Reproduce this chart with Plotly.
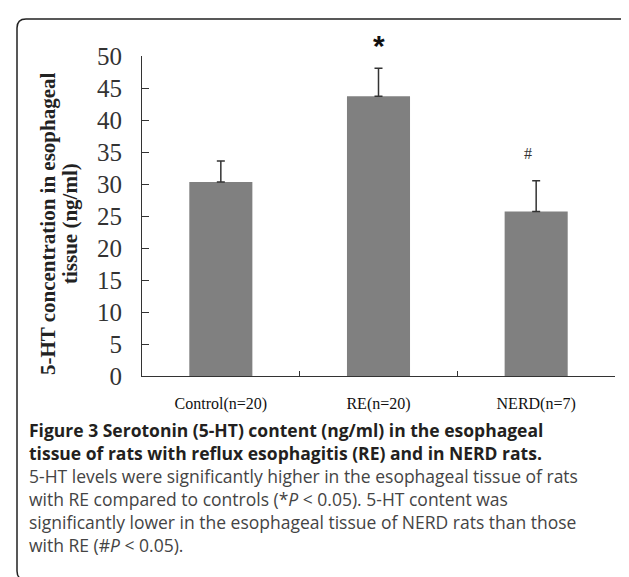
import plotly.graph_objects as go

# ---------------- data ----------------
categories = ["Control(n=20)", "RE(n=20)", "NERD(n=7)"]
means = [30.3, 43.7, 25.7]
sds = [3.3, 4.4, 4.8]
markers = ["", "*", "#"]
y_ticks = [0, 5, 10, 15, 20, 25, 30, 35, 40, 45, 50]
y_title_lines = ["5-HT concentration in esophageal", "tissue (ng/ml)"]
caption_bold = [
    "Figure 3 Serotonin (5-HT) content (ng/ml) in the esophageal",
    "tissue of rats with reflux esophagitis (RE) and in NERD rats.",
]
caption_text = [
    "5-HT levels were significantly higher in the esophageal tissue of rats",
    "with RE compared to controls (*<i>P</i> &lt; 0.05). 5-HT content was",
    "significantly lower in the esophageal tissue of NERD rats than those",
    "with RE (#<i>P</i> &lt; 0.05).",
]

# ---------------- layout geometry (pixels) ----------------
W, H = 629, 577
PL, PR, PT, PB = 134, 607, 48, 368


def px_x(px):
    return (px - PL) / (PR - PL)


def px_y(py):
    return (PB - py) / (PB - PT)


fig = go.Figure()
fig.add_trace(go.Bar(
    x=categories,
    y=means,
    width=0.4,
    marker=dict(color="#808080", line=dict(width=0)),
    error_y=dict(type="data", symmetric=False, array=sds,
                 arrayminus=[0] * len(sds),
                 color="#333333", thickness=1.5, width=4),
    showlegend=False,
    hoverinfo="skip",
))

serif = "Liberation Serif, Times New Roman, serif"
sans = "Open Sans, Noto Sans, sans-serif"

# significance markers
for i, m in enumerate(markers):
    if not m:
        continue
    top = means[i] + sds[i]
    if m == "*":
        fig.add_annotation(x=i, y=top, xref="x", yref="y", text="<b>*</b>",
                           showarrow=False, yanchor="bottom", yshift=4,
                           font=dict(family="Liberation Sans, Arial", size=30, color="#111"))
    else:
        fig.add_annotation(x=i - 0.05, y=top, xref="x", yref="y", text=m,
                           showarrow=False, yanchor="bottom", yshift=17,
                           font=dict(family=serif, size=16, color="#333"))

# y-axis title (two lines)
for k, line in enumerate(y_title_lines):
    fig.add_annotation(x=px_x(40 + 22 * k), y=px_y(216), xref="paper", yref="paper",
                       text="<b>" + line + "</b>", textangle=-90, showarrow=False,
                       xanchor="center", yanchor="middle",
                       font=dict(family=serif, size=21, color="#222"))

# caption
y0, dy = 422, 23
for k, line in enumerate(caption_bold):
    fig.add_annotation(x=px_x(19), y=px_y(y0 + dy * k), xref="paper", yref="paper",
                       text="<b>" + line + "</b>", showarrow=False,
                       xanchor="left", yanchor="middle",
                       font=dict(family=sans, size=17.5, color="#231f20"))
for k, line in enumerate(caption_text):
    fig.add_annotation(x=px_x(19), y=px_y(y0 + dy * (k + 2)), xref="paper", yref="paper",
                       text=line, showarrow=False,
                       xanchor="left", yanchor="middle",
                       font=dict(family=sans, size=17.5, color="#444"))

# rounded border (open on the right)
bl, bt, bb, r = 9, 11, 572, 9
path = (f"M {px_x(700)},{px_y(bt)} L {px_x(bl + r)},{px_y(bt)} "
        f"Q {px_x(bl)},{px_y(bt)} {px_x(bl)},{px_y(bt + r)} "
        f"L {px_x(bl)},{px_y(bb - r)} "
        f"Q {px_x(bl)},{px_y(bb)} {px_x(bl + r)},{px_y(bb)} "
        f"L {px_x(700)},{px_y(bb)}")
fig.add_shape(type="path", path=path, xref="paper", yref="paper",
              line=dict(color="#222", width=1.5))

fig.update_layout(
    width=W, height=H,
    margin=dict(l=PL, r=W - PR, t=PT, b=H - PB, pad=0),
    paper_bgcolor="white", plot_bgcolor="white",
    bargap=0.6,
    xaxis=dict(
        range=[-0.5, 2.5], showline=True, linecolor="#333", linewidth=1.2,
        ticks="inside", tickson="boundaries", ticklen=5, tickcolor="#333",
        tickfont=dict(family=serif, size=16, color="#111"),
        showgrid=False, zeroline=False, fixedrange=True,
        ticklabelstandoff=13,
    ),
    yaxis=dict(
        range=[0, 50], tickvals=y_ticks, showline=True, linecolor="#333",
        linewidth=1.2, ticks="inside", ticklen=7, tickcolor="#333",
        tickfont=dict(family=serif, size=25, color="#333"),
        showgrid=False, zeroline=False, fixedrange=True,
        ticklabelstandoff=14,
    ),
)

fig.write_html("out.html")
